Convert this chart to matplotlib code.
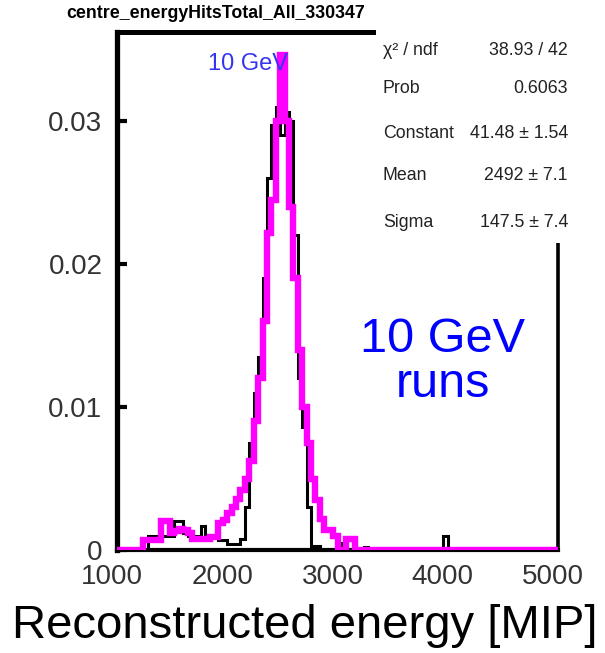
import numpy as np
import matplotlib
matplotlib.use("Agg")
import matplotlib.pyplot as plt
from matplotlib.patches import Rectangle
from matplotlib.transforms import ScaledTranslation

# ---------------- data ----------------
bin_edges = np.arange(1000, 5001, 40)  # 100 bins of 40 MIP

# black histogram (normalised entries per bin)
black_vals = [
    0, 0, 0, 0, 0, 0, 0, 0.0010, 0.0010, 0.0010,          # 1000-1400
    0.0010, 0.0010, 0.0010, 0.0020, 0.0020, 0.0012, 0.0010, 0.0010, 0.0010, 0.0017,  # 1400-1800
    0.0010, 0.0010, 0.0010, 0.0007, 0.0007, 0.0004, 0.0004, 0.0004, 0.0008, 0.0030,  # 1800-2200
    0.0075, 0.0110, 0.0135, 0.0190, 0.0260, 0.0297, 0.0310, 0.0290, 0.0306, 0.0300,  # 2200-2600
    0.0220, 0.0120, 0.0086, 0.0030, 0.0003, 0.0003, 0, 0, 0, 0,                      # 2600-3000
    0.0005, 0, 0, 0, 0, 0, 0.0002, 0, 0, 0,                                          # 3000-3400
    0, 0, 0, 0, 0, 0, 0, 0, 0, 0,                                                    # 3400-3800
    0, 0, 0, 0, 0.0010, 0, 0, 0, 0, 0,                                               # 3800-4200
    0, 0, 0, 0, 0, 0, 0, 0, 0, 0,                                                    # 4200-4600
    0, 0, 0, 0, 0, 0, 0, 0, 0, 0,                                                    # 4600-5000
]

# magenta histogram
magenta_vals = [
    0, 0, 0, 0, 0, 0, 0.0007, 0.0007, 0.0007, 0.0007,
    0.0020, 0.0020, 0.0012, 0.0013, 0.0015, 0.0014, 0.0012, 0.0008, 0.0008, 0.0008,
    0.0008, 0.0009, 0.0009, 0.0019, 0.0021, 0.0026, 0.0030, 0.0036, 0.0042, 0.0050,
    0.0062, 0.0090, 0.0120, 0.0160, 0.0222, 0.0245, 0.0300, 0.0346, 0.0300, 0.0240,
    0.0190, 0.0140, 0.0100, 0.0075, 0.0050, 0.0035, 0.0022, 0.0014, 0.0014, 0.0010,
    0, 0, 0.0008, 0.0008, 0, 0, 0, 0, 0, 0,
    0, 0, 0, 0, 0, 0, 0, 0, 0, 0,
    0, 0, 0, 0, 0, 0, 0, 0, 0, 0,
    0, 0, 0, 0, 0, 0, 0, 0, 0, 0,
    0, 0, 0, 0, 0, 0, 0, 0, 0, 0,
]

x_ticks = [1000, 2000, 3000, 4000, 5000]
x_ticklabels = ["1000", "2000", "3000", "4000", "5000"]
y_ticks = [0, 0.01, 0.02, 0.03]
y_ticklabels = ["0", "0.01", "0.02", "0.03"]

title = "centre_energyHitsTotal_All_330347"
stats_names = ["\u03c7\u00b2 / ndf", "Prob", "Constant", "Mean", "Sigma"]
stats_values = ["38.93 / 42", "0.6063", "41.48 \u00b1 1.54", "2492 \u00b1 7.1", "147.5 \u00b1 7.4"]
xlabel = "Reconstructed energy [MIP]"

# ---------------- figure ----------------
W, H = 605, 653
plt.rcParams['font.family'] = ['Liberation Sans', 'DejaVu Sans']
fig = plt.figure(figsize=(W / 100, H / 100), dpi=100)
fig.patch.set_facecolor("white")

def fx(px):
    return px / W

def fy(py):
    return 1 - py / H

ax = fig.add_axes([fx(117), fy(550), (558 - 117) / W, (550 - 32) / H])
ax.set_xlim(1000, 5000)
ax.set_ylim(0, 518 / 14300)

ax.stairs(black_vals, bin_edges, color="black", lw=2.2, zorder=2)
ax.stairs(magenta_vals, bin_edges, color="#ff00ff", lw=4.6, zorder=3)

for side, lw in [("left", 3.8), ("top", 3.6), ("right", 2.6), ("bottom", 3.0)]:
    ax.spines[side].set_linewidth(lw)
    ax.spines[side].set_color("black")

ax.set_xticks(x_ticks)
ax.set_xticklabels(x_ticklabels)
ax.set_yticks(y_ticks)
ax.set_yticklabels(y_ticklabels)
ax.tick_params(axis="y", direction="in", length=7, width=3, pad=10.5,
               labelsize=20, labelcolor="#333333")
ax.tick_params(axis="x", direction="in", length=0, pad=10,
               labelsize=20, labelcolor="#333333")
offset = ScaledTranslation(-5 / 100, 0, fig.dpi_scale_trans)
for lab in ax.get_xticklabels():
    lab.set_transform(lab.get_transform() + offset)

# stats box (white, no border) covering the upper-right of the frame
fig.add_artist(Rectangle((fx(376), fy(243)), 1 - fx(376), (243 - 26) / H,
                         transform=fig.transFigure, facecolor="white",
                         edgecolor="none", zorder=5))
baselines = [55, 93, 138, 180, 227]
for name, val, by in zip(stats_names, stats_values, baselines):
    fig.text(fx(383), fy(by), name, ha="left", va="baseline",
             fontsize=12.8, color="#222222", zorder=6)
    fig.text(fx(568), fy(by), val, ha="right", va="baseline",
             fontsize=12.8, color="#222222", zorder=6)

# title
fig.text(fx(216), fy(18), title, ha="center", va="baseline",
         fontsize=12.8, fontweight="bold", color="black", zorder=6)

# small label near peak
fig.text(fx(248), fy(70), "10 GeV", ha="center", va="baseline",
         fontsize=17, color="#3535f0", zorder=6)

# big annotation
fig.text(fx(443), fy(352), "10 GeV", ha="center", va="baseline",
         fontsize=35, color="#0000ff", zorder=6)
fig.text(fx(443), fy(397), "runs", ha="center", va="baseline",
         fontsize=35, color="#0000ff", zorder=6)

# x-axis title
fig.text(fx(305), fy(638), xlabel, ha="center", va="baseline",
         fontsize=34, color="black", zorder=6)

fig.savefig("out.png", dpi=100)
